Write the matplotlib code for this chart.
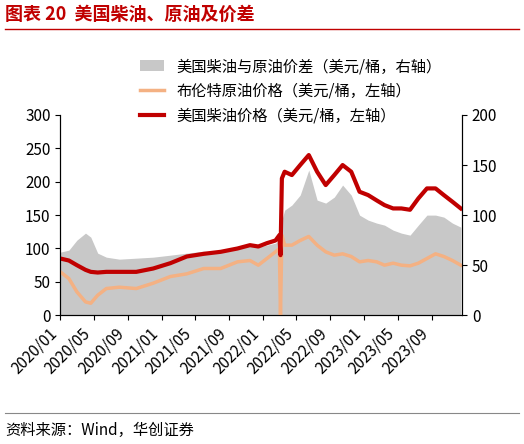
import matplotlib.pyplot as plt
import matplotlib.dates as mdates
import pandas as pd

plt.rcParams['font.family'] = ['Noto Sans CJK SC', 'DejaVu Sans']

dates = ['2020-01-01', '2020-02-01', '2020-03-01', '2020-04-01', '2020-04-20', '2020-05-15', '2020-06-15',
         '2020-08-01', '2020-10-01', '2020-12-01', '2021-02-01', '2021-04-01', '2021-06-01', '2021-08-01',
         '2021-10-01', '2021-11-15', '2021-12-15', '2022-01-15', '2022-02-15', '2022-03-01', '2022-03-05',
         '2022-03-10', '2022-03-20', '2022-04-15', '2022-05-15', '2022-06-15', '2022-07-15', '2022-08-15',
         '2022-09-15', '2022-10-15', '2022-11-15', '2022-12-15', '2023-01-15', '2023-02-15', '2023-03-15',
         '2023-04-15', '2023-05-15', '2023-06-15', '2023-07-15', '2023-08-15', '2023-09-15', '2023-10-15',
         '2023-11-15', '2023-12-15']
diesel = [85, 82, 75, 68, 65, 64, 65, 65, 65, 70, 78, 88, 92, 95, 100, 105, 103, 108, 112, 120, 90,
          205, 215, 210, 225, 240, 215, 195, 210, 225, 215, 185, 180, 172, 165, 160, 160, 158, 175, 190,
          190, 180, 170, 160]
brent = [65, 55, 35, 20, 18, 30, 40, 42, 40, 48, 58, 62, 70, 70, 80, 82, 75, 85, 95, 100, 0,
         120, 105, 105, 112, 118, 105, 95, 90, 92, 88, 80, 82, 80, 75, 78, 75, 74, 78, 85, 92, 88, 82, 75]
spread = [63, 65, 75, 82, 78, 62, 58, 56, 57, 58, 60, 62, 64, 63, 68, 70, 68, 70, 72, 75, 0,
          95, 105, 110, 120, 145, 115, 112, 118, 130, 120, 100, 95, 92, 90, 85, 82, 80, 90, 100, 100,
          98, 92, 88]

x = pd.to_datetime(dates)
red = '#c00000'
orange = '#f4b183'

fig = plt.figure(figsize=(5.24, 4.44), dpi=100)
ax = fig.add_axes([0.115, 0.29, 0.767, 0.451])
ax2 = ax.twinx()
ax.set_zorder(ax2.get_zorder() + 1)
ax.patch.set_visible(False)

ax2.fill_between(x, spread, color='#c8c8c8', lw=0, label='美国柴油与原油价差（美元/桶，右轴）')
l1, = ax.plot(x, brent, color=orange, lw=2.5, label='布伦特原油价格（美元/桶，左轴）')
l2, = ax.plot(x, diesel, color=red, lw=3, label='美国柴油价格（美元/桶，左轴）')

ax.set_ylim(0, 300)
ax2.set_ylim(0, 200)
ax.set_yticks(range(0, 301, 50))
ax2.set_yticks(range(0, 201, 50))
ax.set_xlim(pd.Timestamp('2020-01-01'), pd.Timestamp('2023-12-20'))
ax.xaxis.set_major_locator(mdates.MonthLocator(bymonth=[1, 5, 9]))
ax.xaxis.set_major_formatter(mdates.DateFormatter('%Y/%m'))
for lab in ax.get_xticklabels():
    lab.set_rotation(45)
    lab.set_ha('right')
for a in (ax, ax2):
    a.tick_params(labelsize=11)
    for s in ('top',):
        a.spines[s].set_visible(False)

h0 = ax2.get_legend_handles_labels()[0]
fig.legend(handles=h0 + [l1, l2], loc='upper left', bbox_to_anchor=(0.24, 0.9), frameon=False,
           fontsize=11, handlelength=1.6, labelspacing=0.5)

fig.text(0.01, 0.955, '图表 20  美国柴油、原油及价差', color=red, fontsize=13, fontweight='bold')
fig.add_artist(plt.Line2D([0.01, 0.99], [0.935, 0.935], color=red, lw=1))
fig.add_artist(plt.Line2D([0.01, 0.99], [0.07, 0.07], color='#888888', lw=0.8))
fig.text(0.01, 0.02, '资料来源：Wind，华创证券', fontsize=11, style='italic')

fig.savefig('out.png', dpi=100)
